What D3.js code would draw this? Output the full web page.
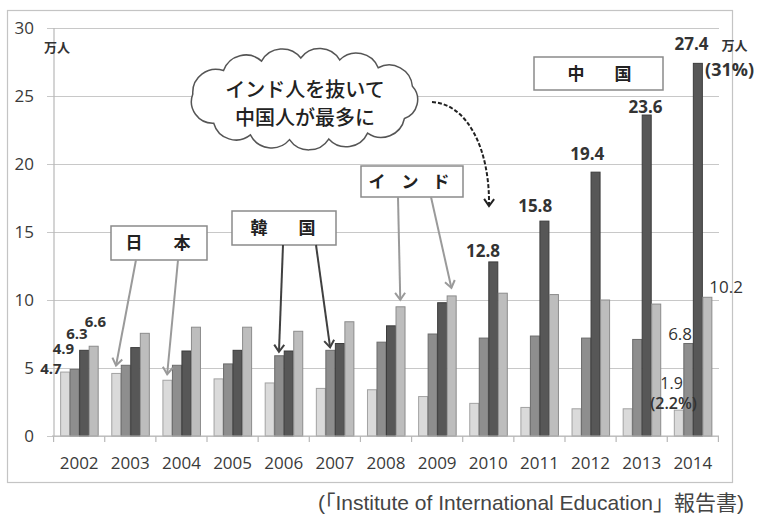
<!DOCTYPE html>
<html>
<head>
<meta charset="utf-8">
<script src="https://cdn.jsdelivr.net/npm/d3@7"></script>
<style>
  html, body { margin: 0; padding: 0; background: #fff; }
  svg { display: block; }
</style>
</head>
<body>
<svg id="chart" width="760" height="516"></svg>
<script>
// 留学生数（万人）— 日本・韓国・中国・インド
const years = [2002, 2003, 2004, 2005, 2006, 2007, 2008, 2009, 2010, 2011, 2012, 2013, 2014];
const japan = [4.7, 4.6, 4.1, 4.2, 3.9, 3.5, 3.4, 2.9, 2.4, 2.1, 2.0, 2.0, 1.9];
const korea = [4.9, 5.2, 5.2, 5.3, 5.9, 6.3, 6.9, 7.5, 7.2, 7.35, 7.2, 7.1, 6.8];
const china = [6.3, 6.5, 6.25, 6.3, 6.25, 6.8, 8.1, 9.8, 12.8, 15.8, 19.4, 23.6, 27.4];
const india = [6.6, 7.55, 8.0, 8.0, 7.7, 8.4, 9.5, 10.3, 10.5, 10.4, 10.0, 9.7, 10.2];
const seriesNames = ["日本", "韓国", "中国", "インド"];
const yTicks = [0, 5, 10, 15, 20, 25, 30];

const seriesValues = [japan, korea, china, india];
const fills   = ["#dadada", "#8e8e8e", "#575757", "#bdbdbd"];
const strokes = ["#a2a2a2", "#6c6c6c", "#3c3c3c", "#8c8c8c"];

const svg = d3.select("#chart");
const FONT = "'Open Sans', 'Noto Sans', sans-serif";
const JP = "'Noto Sans CJK JP', 'Noto Sans', sans-serif";

// outer frame
svg.append("rect")
  .attr("x", 7.5).attr("y", 10.5).attr("width", 725).attr("height", 472)
  .attr("fill", "#fff").attr("stroke", "#c4c4c4").attr("stroke-width", 1.2);

const x = d3.scaleBand().domain(years).range([54, 718]).paddingInner(0.256).paddingOuter(0.12);
const xs = d3.scaleBand().domain(d3.range(4)).range([0, x.bandwidth()]).padding(0);
const y = d3.scaleLinear().domain([0, 30]).range([436, 28]);

// gridlines + y labels
const yAxis = d3.axisLeft(y).tickValues(yTicks).tickSize(-(719 - 47)).tickPadding(13);
const gy = svg.append("g").attr("transform", "translate(47,0)").call(yAxis);
gy.select(".domain").remove();
gy.selectAll(".tick line").attr("stroke", "#c8c8c8").attr("stroke-width", 1.2);
gy.selectAll(".tick text")
  .attr("font-family", FONT).attr("font-size", 17).attr("fill", "#3a3a3a");

// y axis line
svg.append("line").attr("x1", 54).attr("x2", 54).attr("y1", y(30)).attr("y2", y(0))
  .attr("stroke", "#b8b8b8").attr("stroke-width", 1.2);

// bars
const groups = svg.append("g").selectAll("g").data(years).join("g")
  .attr("transform", d => `translate(${x(d)},0)`);
groups.selectAll("rect")
  .data((d, i) => seriesValues.map((arr, s) => ({ s, v: arr[i] })))
  .join("rect")
  .attr("x", d => xs(d.s) + 0.5)
  .attr("width", xs.bandwidth() - 0.5)
  .attr("y", d => y(d.v))
  .attr("height", d => y(0) - y(d.v))
  .attr("fill", d => fills[d.s])
  .attr("stroke", d => strokes[d.s])
  .attr("stroke-width", 1);

// x axis
const step = x.step();
const boundaries = years.map(yr => x(yr) - step * x.paddingInner() / 2).concat([x(years[years.length - 1]) + x.bandwidth() + step * x.paddingInner() / 2]);
svg.append("line").attr("x1", 52).attr("x2", 719).attr("y1", y(0)).attr("y2", y(0))
  .attr("stroke", "#b8b8b8").attr("stroke-width", 1.2);
svg.append("g").selectAll("line").data(boundaries).join("line")
  .attr("x1", d => d).attr("x2", d => d).attr("y1", y(0)).attr("y2", y(0) + 6)
  .attr("stroke", "#b8b8b8").attr("stroke-width", 1.2);
svg.append("g").selectAll("text").data(years).join("text")
  .attr("x", d => x(d) + x.bandwidth() / 2)
  .attr("y", 469)
  .attr("text-anchor", "middle")
  .attr("font-family", FONT).attr("font-size", 17).attr("fill", "#3a3a3a")
  .text(d => d);

// unit label
svg.append("text").attr("x", 57).attr("y", 52).attr("text-anchor", "middle")
  .attr("font-family", JP).attr("font-size", 13).attr("font-weight", 700).attr("fill", "#333")
  .text("万人");

// value labels: series index, year, text, offset from bar top centre
const barCx = (s, i) => x(years[i]) + xs(s) + xs.bandwidth() / 2;
const labels = [
  { s: 0, i: 0, t: "4.7", dx: -14, dy: 2, w: 700, fs: 15 },
  { s: 1, i: 0, t: "4.9", dx: -11, dy: -15, w: 700, fs: 15 },
  { s: 2, i: 0, t: "6.3", dx: -7, dy: -11, w: 700, fs: 15 },
  { s: 3, i: 0, t: "6.6", dx: 2, dy: -19, w: 700, fs: 15 },
  { s: 2, i: 8, t: "12.8", dx: -10, dy: -5, w: 700, fs: 17 },
  { s: 2, i: 9, t: "15.8", dx: -9, dy: -9, w: 700, fs: 17 },
  { s: 2, i: 10, t: "19.4", dx: -8, dy: -12, w: 700, fs: 17 },
  { s: 2, i: 11, t: "23.6", dx: -1, dy: -2, w: 700, fs: 17 },
  { s: 2, i: 12, t: "27.4", dx: -6, dy: -13, w: 700, fs: 17 },
  { s: 1, i: 12, t: "6.8", dx: -8, dy: -4, w: 400, fs: 17 },
  { s: 3, i: 12, t: "10.2", dx: 19, dy: -4, w: 400, fs: 17 },
  { s: 0, i: 12, t: "1.9", dx: -7, dy: -21, w: 400, fs: 16 }
];
svg.append("g").selectAll("text").data(labels).join("text")
  .attr("x", d => barCx(d.s, d.i) + d.dx)
  .attr("y", d => y(seriesValues[d.s][d.i]) + d.dy)
  .attr("text-anchor", "middle")
  .attr("font-family", FONT).attr("font-size", d => d.fs).attr("font-weight", d => d.w)
  .attr("fill", "#333")
  .text(d => d.t);

// share notes
svg.append("text")
  .attr("x", barCx(0, 12) - 5).attr("y", y(japan[12]) - 1)
  .attr("text-anchor", "middle").attr("font-family", FONT).attr("font-size", 16)
  .attr("font-weight", 600).attr("fill", "#333").text("(2.2%)");
svg.append("text")
  .attr("x", barCx(2, 12) + 24).attr("y", y(china[12]) - 13)
  .attr("text-anchor", "start").attr("font-family", JP).attr("font-size", 13)
  .attr("font-weight", 700).attr("fill", "#333").text("万人");
svg.append("text")
  .attr("x", barCx(2, 12) + 32).attr("y", y(china[12]) + 13)
  .attr("text-anchor", "middle").attr("font-family", FONT).attr("font-size", 18)
  .attr("font-weight", 700).attr("fill", "#333").text("(31%)");

// arrow markers
const defs = svg.append("defs");
function chevron(id, color) {
  defs.append("marker").attr("id", id)
    .attr("viewBox", "-10 -7 12 14").attr("refX", 0).attr("refY", 0)
    .attr("markerWidth", 12).attr("markerHeight", 14)
    .attr("markerUnits", "userSpaceOnUse").attr("orient", "auto")
    .append("path").attr("d", "M-7,-5 L0,0 L-7,5")
    .attr("fill", "none").attr("stroke", color).attr("stroke-width", 2);
}
chevron("arrGray", "#9a9a9a");
chevron("arrDark", "#404040");
chevron("arrBlack", "#222");

// series name boxes with pointers to bars
function nameBox(bx, by, bw, bh, name, chars, arrows, color) {
  const g = svg.append("g");
  g.append("rect").attr("x", bx).attr("y", by).attr("width", bw).attr("height", bh)
    .attr("fill", "#fff").attr("stroke", "#8a8a8a").attr("stroke-width", 1.5);
  g.selectAll("text").data(chars).join("text")
    .attr("x", d => d.cx).attr("y", by + bh / 2 + 6)
    .attr("text-anchor", "middle").attr("font-family", JP).attr("font-size", 17)
    .attr("font-weight", 700).attr("fill", "#222")
    .text(d => d.c);
  arrows.forEach(a => {
    const tx = barCx(a.s, a.i);
    const ty = y(seriesValues[a.s][a.i]) - a.gap;
    g.append("line").attr("x1", a.sx).attr("y1", by + bh).attr("x2", tx).attr("y2", ty)
      .attr("stroke", color).attr("stroke-width", 2)
      .attr("marker-end", color === "#404040" ? "url(#arrDark)" : "url(#arrGray)");
  });
}
const [nJ, nK, nC, nI] = seriesNames;
nameBox(111, 226, 96, 34, nJ,
  [{ c: nJ[0], cx: 134 }, { c: nJ[1], cx: 182 }],
  [{ sx: 136, s: 0, i: 1, gap: 8 }, { sx: 178, s: 0, i: 2, gap: 6 }], "#9a9a9a");
nameBox(232, 211, 104, 34, nK,
  [{ c: nK[0], cx: 259 }, { c: nK[1], cx: 307 }],
  [{ sx: 283, s: 1, i: 4, gap: 4 }, { sx: 316, s: 1, i: 5, gap: 3 }], "#404040");
nameBox(361, 166, 102, 31, nI,
  [{ c: nI[0], cx: 377 }, { c: nI[1], cx: 410 }, { c: nI[2], cx: 441 }],
  [{ sx: 398, s: 3, i: 6, gap: 7 }, { sx: 431, s: 3, i: 7, gap: 8 }], "#9a9a9a");
nameBox(534, 57, 129, 33, nC,
  [{ c: nC[0], cx: 576 }, { c: nC[1], cx: 623 }], [], "#9a9a9a");

// speech cloud
(function cloud() {
  const cx = 305, cy = 99, rx = 113, ry = 41, n = 13;
  // sample ellipse and pick points at equal arc length
  const samples = d3.range(0, 721).map(k => {
    const a = Math.PI + (k / 720) * 2 * Math.PI + 0.12;
    return [cx + rx * Math.cos(a), cy + ry * Math.sin(a)];
  });
  const cum = [0];
  for (let k = 1; k < samples.length; k++) {
    cum.push(cum[k - 1] + Math.hypot(samples[k][0] - samples[k - 1][0], samples[k][1] - samples[k - 1][1]));
  }
  const total = cum[cum.length - 1];
  const pts = d3.range(n).map(j => {
    const target = total * j / n;
    const idx = cum.findIndex(c => c >= target);
    return samples[Math.max(0, idx)];
  });
  let d = `M${pts[0][0]},${pts[0][1]}`;
  for (let j = 1; j <= n; j++) {
    const p0 = pts[j - 1], p1 = pts[j % n];
    const chord = Math.hypot(p1[0] - p0[0], p1[1] - p0[1]);
    const r = chord * 0.6;
    d += ` A${r},${r} 0 0 1 ${p1[0]},${p1[1]}`;
  }
  svg.append("path").attr("d", d + "Z")
    .attr("fill", "#fff").attr("stroke", "#555").attr("stroke-width", 1.5);
  const lines = ["インド人を抜いて", "中国人が最多に"];
  svg.append("g").selectAll("text").data(lines).join("text")
    .attr("x", 305).attr("y", (d, k) => 97 + k * 28)
    .attr("text-anchor", "middle").attr("font-family", JP).attr("font-size", 20)
    .attr("font-weight", 500).attr("fill", "#222").text(d => d);
})();

// dashed curved pointer from the cloud
svg.append("path")
  .attr("d", "M432,102 C468,104 490,150 489,206")
  .attr("fill", "none").attr("stroke", "#222").attr("stroke-width", 2)
  .attr("stroke-dasharray", "4,2")
  .attr("marker-end", "url(#arrBlack)");

// source note
svg.append("text").attr("x", 744).attr("y", 510).attr("text-anchor", "end")
  .attr("font-family", "'Liberation Sans', 'Noto Sans CJK JP', sans-serif").attr("font-size", 21)
  .attr("fill", "#444")
  .text("(「Institute of International Education」報告書)");
</script>
</body>
</html>
